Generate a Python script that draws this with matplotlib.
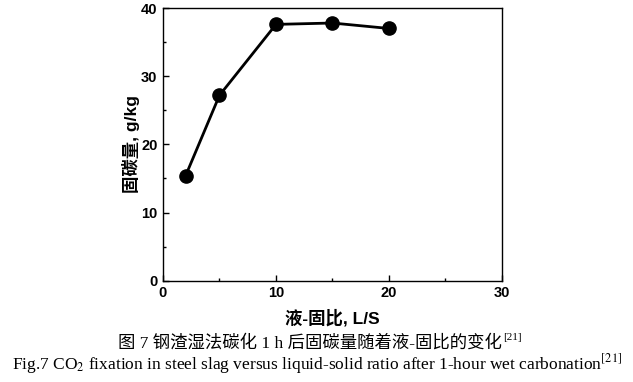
import matplotlib.pyplot as plt
from matplotlib.ticker import MultipleLocator

plt.rcParams['font.family'] = ['Liberation Sans', 'Noto Sans CJK SC']
plt.rcParams['mathtext.fontset'] = 'stix'

ratio = [2, 5, 10, 15, 20]
fixation = [15.4, 27.2, 37.6, 37.8, 37.0]

fig = plt.figure(figsize=(6.33, 3.82), dpi=100)
ax = fig.add_axes([0.2575, 0.265, 0.5355, 0.714])

ax.plot(ratio, fixation, 'k-', linewidth=2.0, marker='o', markersize=9.5)

ax.set_xlim(0, 30)
ax.set_ylim(0, 40)
ax.xaxis.set_major_locator(MultipleLocator(10))
ax.xaxis.set_minor_locator(MultipleLocator(5))
ax.yaxis.set_major_locator(MultipleLocator(10))
ax.yaxis.set_minor_locator(MultipleLocator(5))
ax.tick_params(which='both', direction='in', top=False, right=False)
ax.tick_params(which='major', length=4, width=1, labelsize=10.5, pad=4)
ax.tick_params(which='minor', length=2.5, width=1)
for lab in ax.get_xticklabels() + ax.get_yticklabels():
    lab.set_fontweight('bold')
for sp in ax.spines.values():
    sp.set_linewidth(1.0)

ax.set_xlabel('液-固比, L/S', fontsize=12.5, fontweight='bold', labelpad=6)
ax.set_ylabel('固碳量, g/kg', fontsize=12.5, fontweight='bold', labelpad=1)

serif = ['Liberation Serif', 'Noto Sans CJK SC']
cn = fig.text(0.49, 0.102, '图 7 钢渣湿法碳化 1 h 后固碳量随着液-固比的变化',
              ha='center', va='center', fontsize=12.5, family=serif)
fig.canvas.draw()
bb = cn.get_window_extent().transformed(fig.transFigure.inverted())
fig.text(bb.x1 + 0.002, bb.y1 + 0.004, '[21]', ha='left', va='top',
         fontsize=8, family=serif)

fig.text(0.5, 0.048, 'Fig.7 CO$_2$ fixation in steel slag versus liquid-solid ratio after 1-hour wet carbonation$^{[21]}$',
         ha='center', va='center', fontsize=12.5, family=serif)

fig.savefig('out.png', dpi=100)
